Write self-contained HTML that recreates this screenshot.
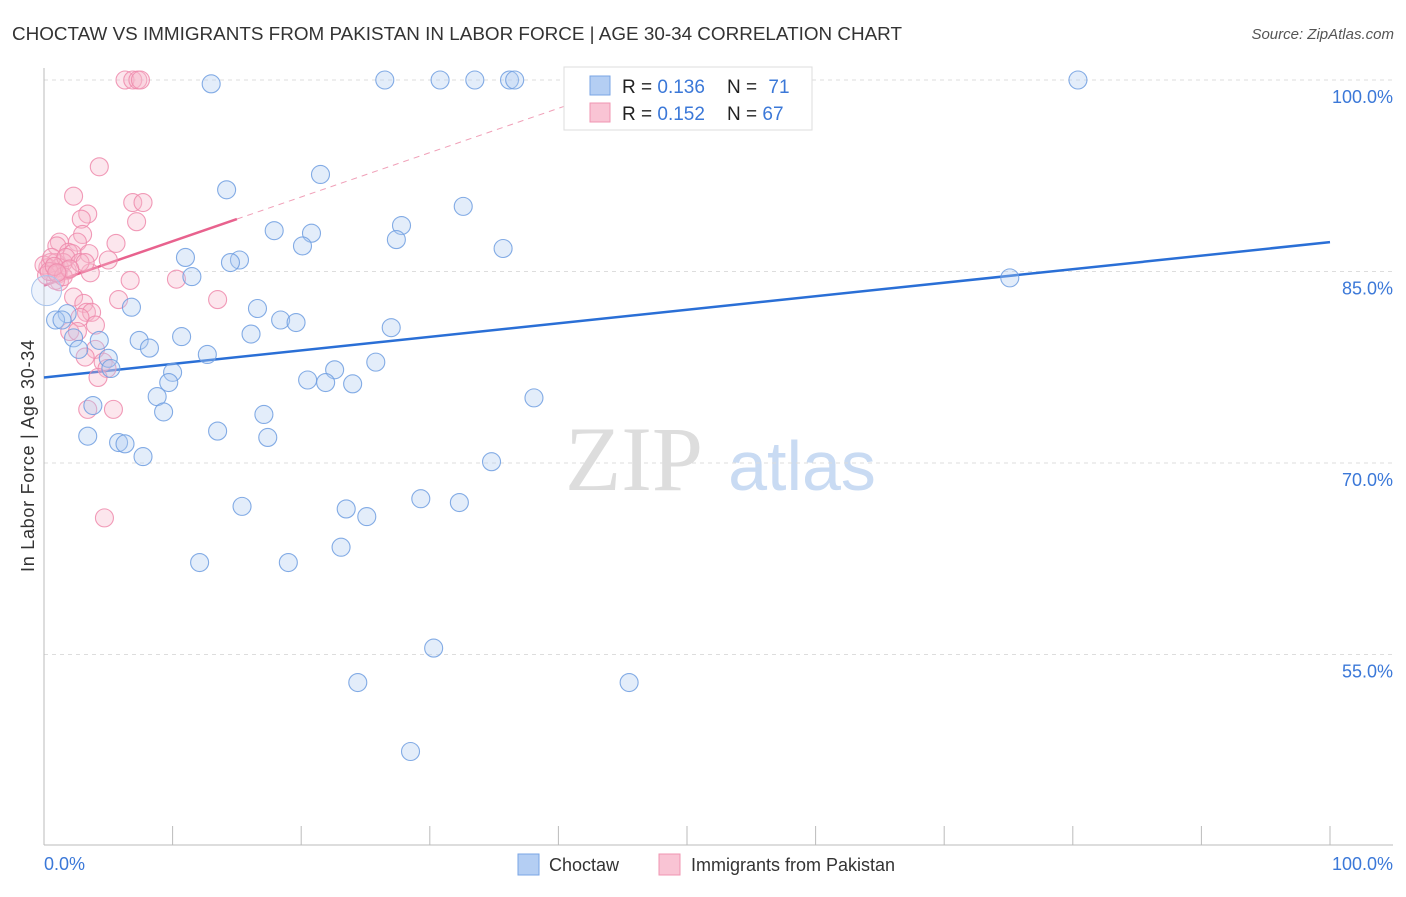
<!DOCTYPE html>
<html><head><meta charset="utf-8"><style>
body{margin:0;background:#fff;font-family:"Liberation Sans",sans-serif;}
svg text{font-family:"Liberation Sans",sans-serif;}
</style></head><body>
<svg width="1406" height="892" xmlns="http://www.w3.org/2000/svg">
<text x="12" y="40" font-size="18" fill="#333" textLength="890" lengthAdjust="spacingAndGlyphs">CHOCTAW VS IMMIGRANTS FROM PAKISTAN IN LABOR FORCE | AGE 30-34 CORRELATION CHART</text>
<text x="1394" y="39" font-size="15" fill="#555" text-anchor="end" font-style="italic">Source: ZipAtlas.com</text>
<g>
<text x="634" y="490" font-size="92" fill="#ddd" text-anchor="middle" font-family="Liberation Serif,serif" style="font-family:'Liberation Serif',serif">ZIP</text>
<text x="802" y="490" font-size="70" fill="#c9dbf3" text-anchor="middle">atlas</text>
</g>
<g id="grid"></g>
<g id="axes"></g>
<g id="trend"></g>
<g id="pts"></g>
<text x="34" y="456" font-size="18" fill="#333" text-anchor="middle" textLength="232" transform="rotate(-90 34 456)">In Labor Force | Age 30-34</text>
<text x="44" y="870" font-size="18" fill="#3b78d8">0.0%</text>
<text x="1393" y="870" font-size="18" fill="#3b78d8" text-anchor="end">100.0%</text>
<g>
<rect x="564" y="67" width="248" height="63" fill="#fff" stroke="#ddd"/>
<rect x="590" y="76" width="20" height="19" fill="#b4cef3" stroke="#7aa5e4"/>
<rect x="590" y="103" width="20" height="19" fill="#f9c4d4" stroke="#f095b2"/>
<text x="622" y="93" font-size="19" fill="#222">R = <tspan fill="#3b78d8">0.136</tspan></text>
<text x="727" y="93" font-size="19" fill="#222">N = <tspan fill="#3b78d8" dx="6">71</tspan></text>
<text x="622" y="120" font-size="19" fill="#222">R = <tspan fill="#3b78d8">0.152</tspan></text>
<text x="727" y="120" font-size="19" fill="#222">N = <tspan fill="#3b78d8">67</tspan></text>
</g>
<g>
<rect x="518" y="854" width="21" height="21" fill="#b4cef3" stroke="#7aa5e4"/>
<text x="549" y="871" font-size="18" fill="#333">Choctaw</text>
<rect x="659" y="854" width="21" height="21" fill="#f9c4d4" stroke="#f095b2"/>
<text x="691" y="871" font-size="18" fill="#333">Immigrants from Pakistan</text>
</g>
</svg>
<script>
const yTicks=[100,85,70,55];
const yTickLabels=["100.0%","85.0%","70.0%","55.0%"];
const xTicks=[0,10,20,30,40,50,60,70,80,90,100];
const blueX=[13.0,26.5,30.8,33.5,36.2,36.6,80.4,21.5,14.2,32.6,27.8,17.9,20.8,27.4,20.1,35.7,11.0,15.2,14.5,11.5,75.1,6.8,16.6,1.8,0.9,1.4,18.4,19.6,27.0,10.7,16.1,4.3,7.4,2.3,2.7,8.2,12.7,25.8,5.0,5.2,10.0,22.6,20.5,9.7,21.9,24.0,8.8,38.1,9.3,3.8,17.1,13.5,3.4,5.8,6.3,17.4,7.7,34.8,29.3,32.3,15.4,23.5,25.1,23.1,12.1,19.0,30.3,24.4,45.5,28.5];
const blueY=[99.7,100,100,100,100,100,100,92.6,91.4,90.1,88.6,88.2,88.0,87.5,87.0,86.8,86.1,85.9,85.7,84.6,84.5,82.2,82.1,81.7,81.2,81.2,81.2,81.0,80.6,79.9,80.1,79.6,79.6,79.8,78.9,79.0,78.5,77.9,78.2,77.4,77.1,77.3,76.5,76.3,76.3,76.2,75.2,75.1,74.0,74.5,73.8,72.5,72.1,71.6,71.5,72.0,70.5,70.1,67.2,66.9,66.6,66.4,65.8,63.4,62.2,62.2,55.5,52.8,52.8,47.4];
const pinkX=[6.3,6.9,7.3,7.5,4.3,2.3,3.4,6.9,7.7,2.9,7.2,3.0,1.2,2.6,5.6,1.0,1.9,2.2,3.5,5.0,0.5,0.9,1.5,0.3,1.2,1.8,0.6,1.1,3.6,6.7,10.3,1.2,2.3,5.8,13.5,3.1,3.3,3.7,2.8,4.0,2.0,2.6,4.0,3.2,4.6,4.9,4.2,3.4,5.4,4.7,0,0.2,0.6,1.7,2.8,0.9,3.2,0.4,1.5,0.8,2.0,1.0];
const pinkY=[100,100,100,100,93.2,90.9,89.5,90.4,90.4,89.1,88.9,87.9,87.3,87.3,87.2,87.0,86.5,86.4,86.4,85.9,85.7,85.7,85.7,85.3,85.3,85.1,85.0,84.8,84.9,84.3,84.4,84.2,83.0,82.8,82.8,82.5,81.8,81.8,81.4,80.8,80.3,80.3,78.9,78.3,77.9,77.4,76.7,74.2,74.2,65.7,85.5,84.7,86.1,86.1,85.7,84.3,85.7,85.0,84.6,85.4,85.2,84.9];
const blueTrend=[76.7,0.106];
const pinkTrend=[83.9,0.347];
const NS="http://www.w3.org/2000/svg";
const X0=44,X1=1330,Y100=80,PXPER=12.766;
const sx=v=>X0+(X1-X0)*v/100;
const sy=v=>Y100+(100-v)*PXPER;
function mk(t,a,p){const e=document.createElementNS(NS,t);for(const k in a)e.setAttribute(k,a[k]);p.appendChild(e);return e;}
const grid=document.getElementById('grid'),axes=document.getElementById('axes'),trend=document.getElementById('trend'),pts=document.getElementById('pts');
yTicks.forEach((t,i)=>{
 const l=mk('line',{x1:X0,x2:1393,y1:sy(t),y2:sy(t),stroke:'#ddd','stroke-dasharray':'4,4'},grid);
 
 
 const tx=mk('text',{x:1393,y:sy(t)+23,'font-size':18,fill:'#3b78d8','text-anchor':'end'},grid);
 tx.textContent=yTickLabels[i];
 
 
});
mk('line',{x1:X0,x2:X0,y1:68,y2:845,stroke:'#bbb'},axes);
mk('line',{x1:X0,x2:1393,y1:845,y2:845,stroke:'#bbb'},axes);
xTicks.forEach(t=>{
 const l=mk('line',{x1:sx(t),x2:sx(t),y1:826,y2:845,stroke:'#bbb'},axes);
 
 
});
function drawPts(xs,ys,fill,stroke,name){
 xs.forEach((x,i)=>{
  const c=mk('circle',{cx:sx(x),cy:sy(ys[i]),r:9,fill:fill,'fill-opacity':0.35,stroke:stroke,'stroke-opacity':0.85,'stroke-width':1.1},pts);
  
  
 });
}
drawPts(pinkX,pinkY,'#f7b7cb','#ee8aab','pakistan-point');
drawPts(blueX,blueY,'#b0cbf2','#6e9ee0','choctaw-point');
const big=mk('circle',{cx:sx(0.2),cy:sy(83.5),r:15,fill:'#c4d8f5','fill-opacity':0.3,stroke:'#a9c4ec','stroke-width':1},pts);


const bl=mk('line',{x1:sx(0),y1:sy(blueTrend[0]),x2:sx(100),y2:sy(blueTrend[0]+100*blueTrend[1]),stroke:'#2a6fd6','stroke-width':2.5},trend);


const pe=(100-pinkTrend[0])/pinkTrend[1];
const pd=mk('line',{x1:sx(15),y1:sy(pinkTrend[0]+15*pinkTrend[1]),x2:sx(pe),y2:sy(100),stroke:'#f0a0b8','stroke-width':1,'stroke-dasharray':'6,5'},trend);


const pl=mk('line',{x1:sx(0),y1:sy(pinkTrend[0]),x2:sx(15),y2:sy(pinkTrend[0]+15*pinkTrend[1]),stroke:'#e8628e','stroke-width':2.5},trend);


</script>
</body></html>
